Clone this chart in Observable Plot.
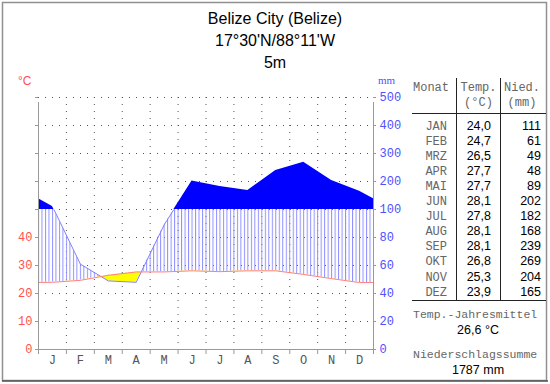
<!DOCTYPE html>
<html><head><meta charset="utf-8">
<script src="https://cdn.jsdelivr.net/npm/d3@7"></script>
<script src="https://cdn.jsdelivr.net/npm/@observablehq/plot@0.6"></script>
<style>html,body{margin:0;padding:0;background:#fff}#chart{position:relative;width:550px;height:384px}</style>
</head><body><div id="chart"></div>
<script>
const titleLines = ["Belize City (Belize)", "17°30'N/88°11'W", "5m"];
const monthLetters = ["J","F","M","A","M","J","J","A","S","O","N","D"];
const monthNames = ["JAN","FEB","MRZ","APR","MAI","JUN","JUL","AUG","SEP","OKT","NOV","DEZ"];
const temperature = [24.0,24.7,26.5,27.7,27.7,28.1,27.8,28.1,28.1,26.8,25.3,23.9];
const precipitation = [111,61,49,48,89,202,182,168,239,269,204,165];
const tempTicks = [0,10,20,30,40];
const precipTicks = [0,20,40,60,80,100,200,300,400,500];

// Walter-Lieth scale: 10 °C = 20 mm below 100 mm, 100 mm per step above
function pu(p){ return p <= 100 ? p/2 : 50 + (p-100)/10; }

const rows = temperature.map((t,i)=>({x:i+0.5, t, p:pu(precipitation[i])}));
const ext = [{...rows[11], x:-0.5}, ...rows, {...rows[0], x:12.5}];
const gridU = precipTicks.map(pu);
const boundaries = d3.range(0, 13);
const fmt = v => v.toFixed(1).replace(".", ",");

const MONO = "Liberation Mono", SANS = "Liberation Sans";
const RED = "#ff5050", BLUE = "#5050ff", AX = "#999";

const chart = Plot.plot({
  width:550, height:384, marginLeft:38, marginRight:177, marginTop:97, marginBottom:35,
  x:{domain:[0,12], axis:null}, y:{domain:[0,90], axis:null},
  marks:[
    Plot.ruleY(gridU.filter(d=>d>0), {stroke:"#555", strokeDasharray:"1,6"}),
    Plot.ruleX(boundaries.slice(1,-1), {stroke:"#555", strokeDasharray:"1,6"}),
    Plot.areaY(ext, {x:"x", y1:"t", y2:"p", fill:"#8080ff", clip:"frame"}),
    Plot.areaY(ext, {x:"x", y1:"t", y2:"p", fill:"#ffff00", clip:"frame"}),
    Plot.areaY(ext, {x:"x", y1:50, y2:"p", fill:"#0000ff", clip:"frame"}),
    Plot.line(ext, {x:"x", y:"p", stroke:"#8080ff", strokeWidth:1, clip:"frame"}),
    Plot.line(ext, {x:"x", y:"t", stroke:"#ff8080", strokeWidth:1, clip:"frame"}),
    Plot.ruleX([0,12], {y1:0, y2:90, insetBottom:-5, stroke:AX}),
    Plot.ruleY([0], {stroke:AX}),
    Plot.ruleX(boundaries, {y1:0, y2:0, insetBottom:-5, stroke:AX}),
    Plot.ruleY(gridU, {x1:0, x2:0, insetLeft:-3, stroke:AX}),
    Plot.ruleY(gridU, {x1:12, x2:12, insetRight:-3, stroke:AX}),
    Plot.text(tempTicks, {x:0, y:d=>d, text:d=>String(d), dx:-6, textAnchor:"end", fill:RED, fontFamily:MONO, fontSize:12}),
    Plot.text(precipTicks, {x:12, y:pu, text:d=>String(d), dx:6, textAnchor:"start", fill:BLUE, fontFamily:MONO, fontSize:12}),
    Plot.text(monthLetters, {x:(d,i)=>i+0.5, y:0, dy:11, text:d=>d, fill:"#555", fontFamily:MONO, fontSize:12})
  ]
});
document.getElementById("chart").appendChild(chart);

const X = chart.scale("x"), Y = chart.scale("y");
const svg = d3.select(chart);
const defs = svg.insert("defs", ":first-child");
const step = (X.apply(1) - X.apply(0)) / 8;
const pat = defs.append("pattern").attr("id","hatch").attr("patternUnits","userSpaceOnUse")
  .attr("x", X.apply(0)).attr("width", step).attr("height", 10);
pat.append("rect").attr("x",0).attr("y",0).attr("width",1).attr("height",10).attr("fill","#9090ff");
const ax = d => X.apply(d.x);
defs.append("clipPath").attr("id","cHatch").append("path")
  .attr("d", d3.area().x(ax).y0(d=>Y.apply(d.t)).y1(Y.apply(50))(ext));
defs.append("clipPath").attr("id","cArid").append("path")
  .attr("d", d3.area().x(ax).y0(Y.apply(0)).y1(d=>Y.apply(d.t))(ext));
defs.append("clipPath").attr("id","cWet").append("rect")
  .attr("x", X.apply(0)).attr("y", Y.apply(90)).attr("width", X.apply(12)-X.apply(0)).attr("height", Y.apply(50)-Y.apply(90));
defs.append("clipPath").attr("id","cLow").append("rect")
  .attr("x", X.apply(0)).attr("y", Y.apply(50)).attr("width", X.apply(12)-X.apply(0)).attr("height", Y.apply(0)-Y.apply(50)+2);

const areaPaths = chart.querySelectorAll('g[aria-label="area"] path');
areaPaths[0].setAttribute("fill","url(#hatch)");
areaPaths[0].setAttribute("clip-path","url(#cHatch)");
areaPaths[1].setAttribute("clip-path","url(#cArid)");
areaPaths[2].setAttribute("clip-path","url(#cWet)");
const linePaths = chart.querySelectorAll('g[aria-label="line"] path');
linePaths[0].setAttribute("clip-path","url(#cLow)");

// frame border
svg.append("rect").attr("x",2.5).attr("y",2.5).attr("width",544).attr("height",378)
  .attr("fill","none").attr("stroke","#909090").attr("stroke-width",1.5);
svg.append("line").attr("x1",2).attr("x2",548).attr("y1",381).attr("y2",381).attr("stroke","#555").attr("stroke-width",1.5);

const T = (x,y,s,o={}) => svg.append("text").attr("x",x).attr("y",y).text(s)
  .attr("font-family", o.ff||SANS).attr("font-size", o.fs||12).attr("fill", o.fill||"#000")
  .attr("text-anchor", o.anchor||"start");

titleLines.forEach((s,i)=>T(275, 24 + i*22, s, {fs:16, anchor:"middle"}));
T(18, 85, "°C", {fill:RED, fs:12});
T(378, 84, "mm", {fill:BLUE, fs:11, ff:"Liberation Serif"});

// table
const G = "#666";
T(413, 91, "Monat", {ff:MONO, fill:G});
T(478.5, 91, "Temp.", {ff:MONO, fill:G, anchor:"middle"});
T(478.5, 106, "(°C)", {ff:MONO, fill:G, anchor:"middle"});
T(522, 91, "Nied.", {ff:MONO, fill:G, anchor:"middle"});
T(522, 106, "(mm)", {ff:MONO, fill:G, anchor:"middle"});
const L = (x1,y1,x2,y2) => svg.append("line").attr("x1",x1).attr("y1",y1).attr("x2",x2).attr("y2",y2).attr("stroke","#222");
L(456.5,78,456.5,301); L(500.5,78,500.5,301);
L(412,113.5,546,113.5); L(412,300.5,546,300.5);
monthNames.forEach((m,i)=>{
  const y = 129.5 + i*15.1;
  T(447, y, m, {ff:MONO, fill:G, anchor:"end"});
  T(491, y, fmt(temperature[i]), {fs:12.5, anchor:"end"});
  T(541, y, String(precipitation[i]), {fs:12.5, anchor:"end"});
});
T(413, 318, "Temp.-Jahresmittel", {ff:MONO, fs:11.5, fill:G});
T(478, 334, fmt(d3.mean(temperature)) + " °C", {fs:12.5, anchor:"middle"});
T(413, 358, "Niederschlagssumme", {ff:MONO, fs:11.5, fill:G});
T(478, 374, d3.sum(precipitation) + " mm", {fs:12.5, anchor:"middle"});
</script></body></html>
